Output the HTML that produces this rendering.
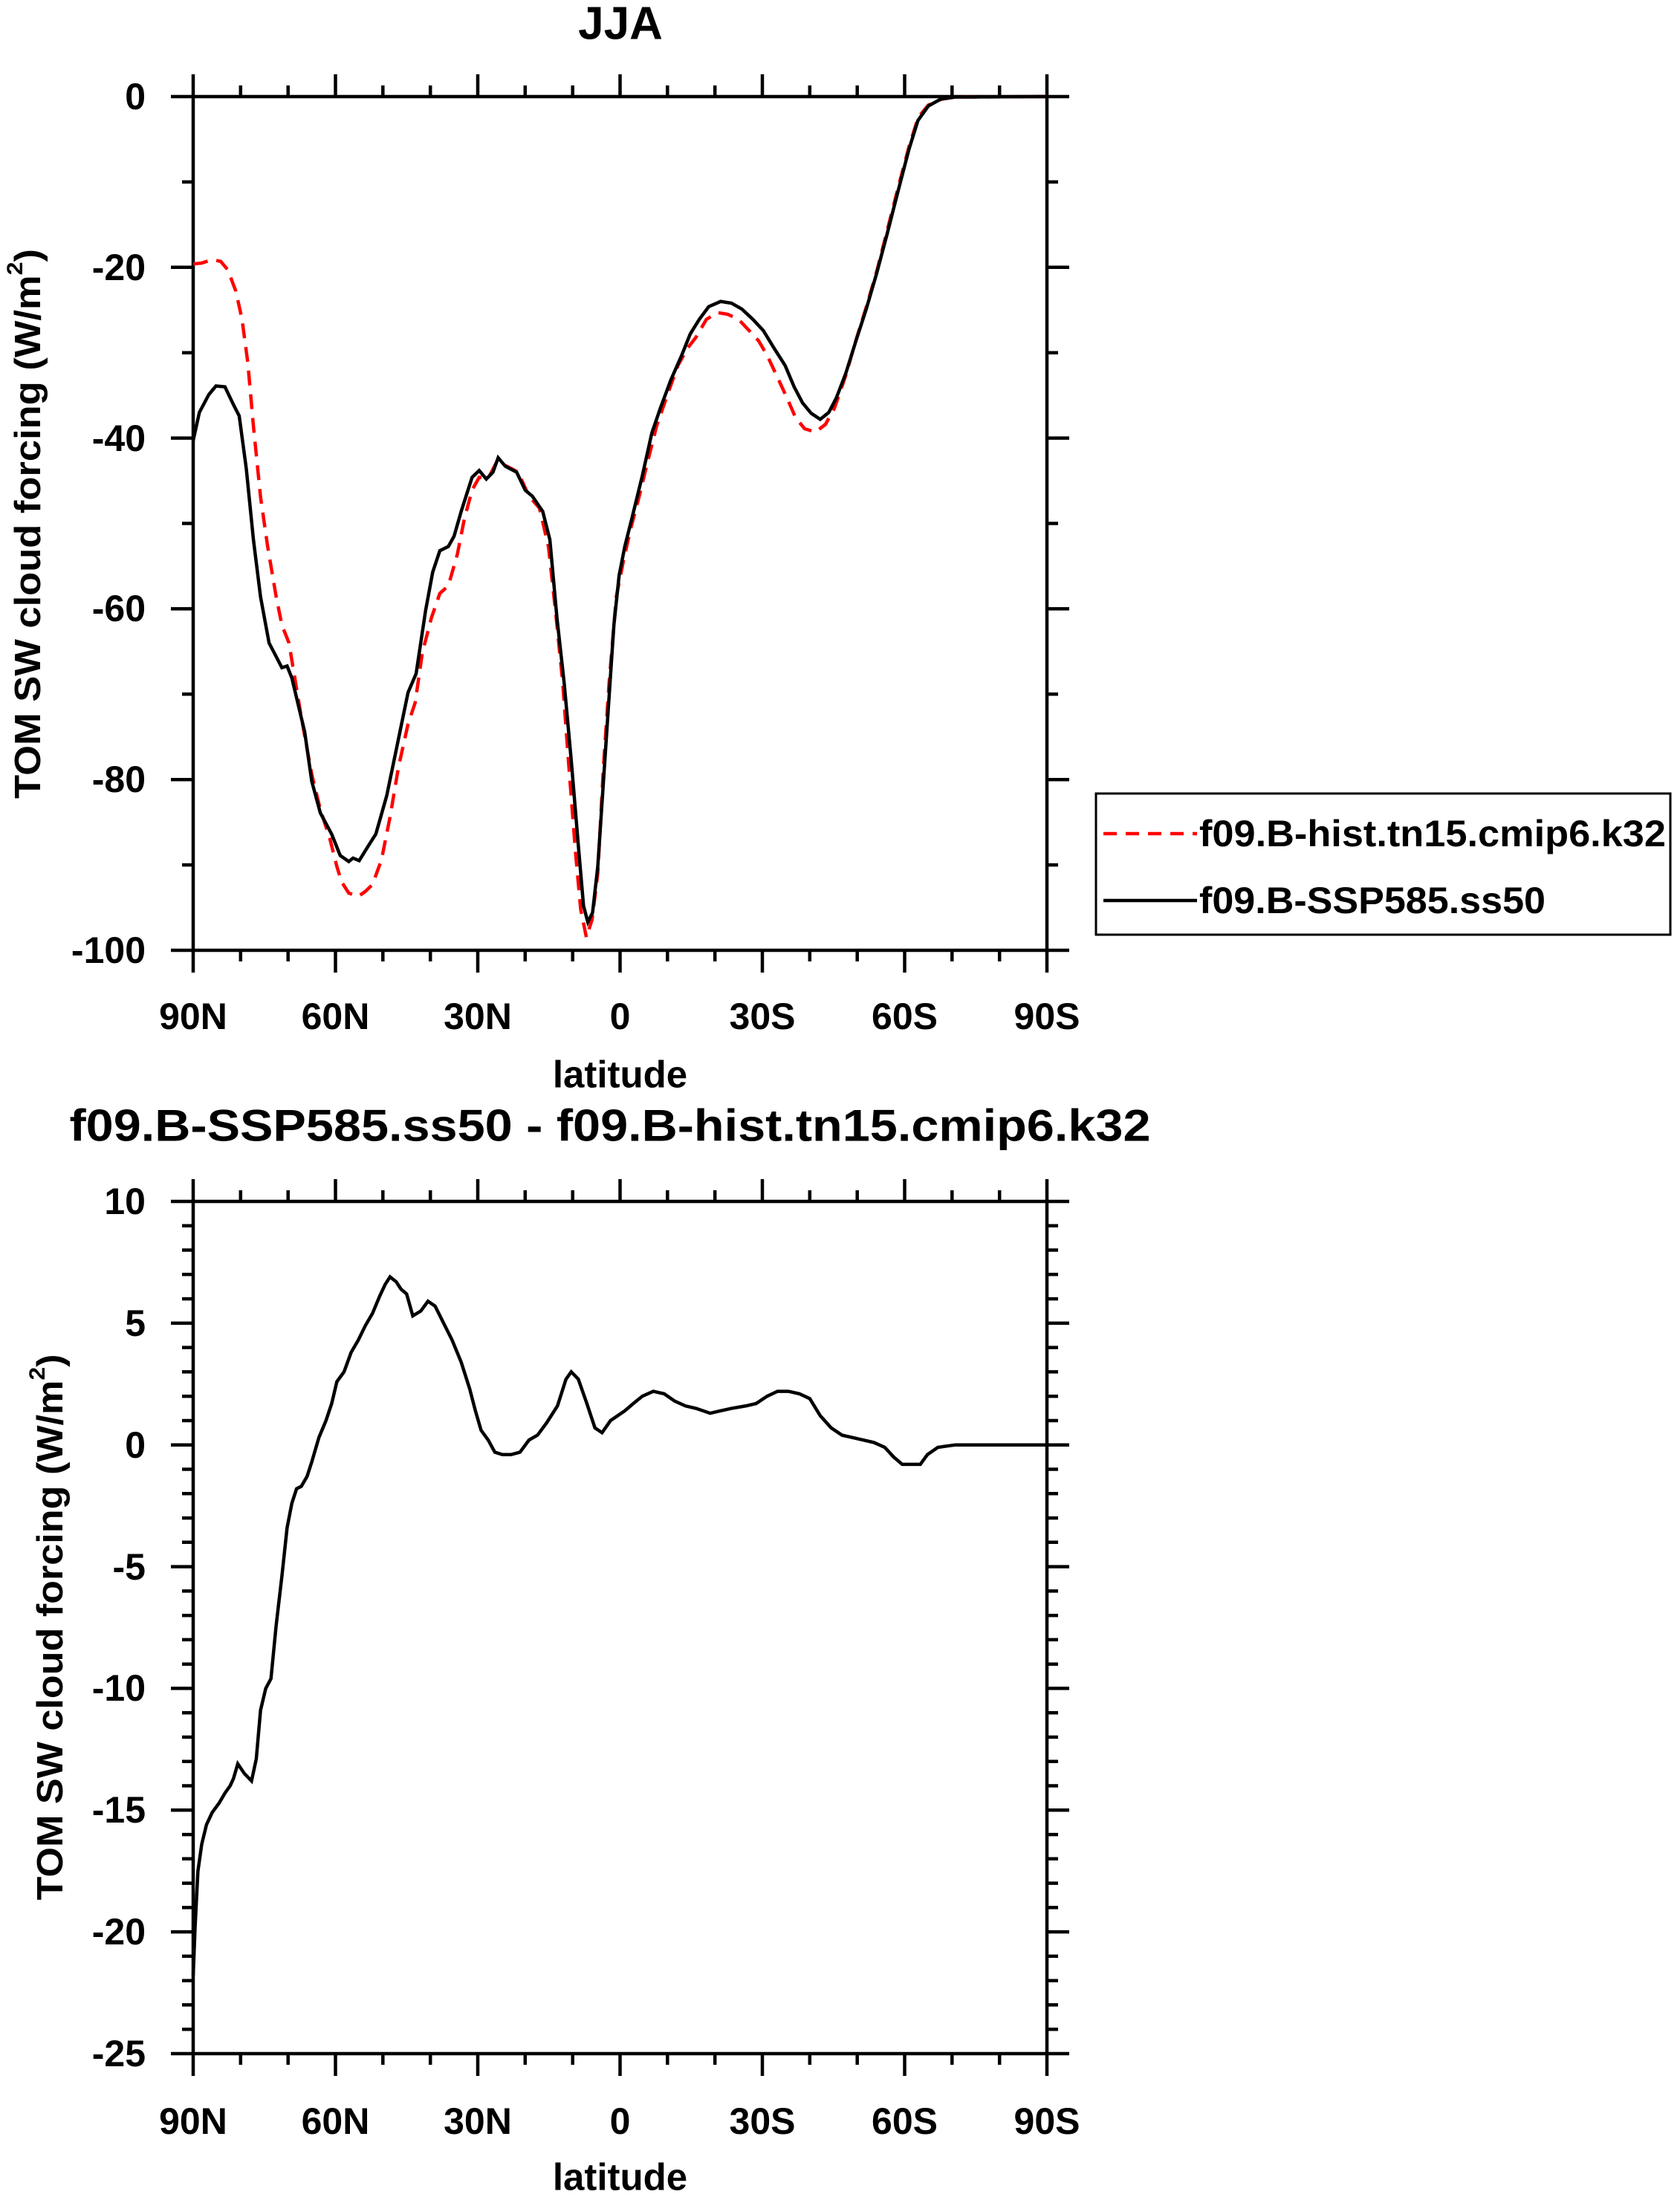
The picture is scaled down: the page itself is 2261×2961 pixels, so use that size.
<!DOCTYPE html>
<html><head><meta charset="utf-8"><style>
html,body{margin:0;padding:0;background:#fff;}
svg{display:block;}
text{font-family:"Liberation Sans",Arial,sans-serif;font-weight:bold;fill:#000;}
</style></head><body>
<svg width="2261" height="2961" viewBox="0 0 2261 2961" xmlns="http://www.w3.org/2000/svg">
<!-- TOP PLOT -->
<text x="835" y="32" font-size="62" text-anchor="middle" dominant-baseline="central">JJA</text>
<g stroke="#000" stroke-width="4.5" fill="none">
<rect x="260" y="130" width="1149" height="1149"/>
<path d="M260 130v-30M451.5 130v-30M643 130v-30M834.5 130v-30M1026 130v-30M1217.5 130v-30M1409 130v-30
M260 1279v30M451.5 1279v30M643 1279v30M834.5 1279v30M1026 1279v30M1217.5 1279v30M1409 1279v30
M323.8 130v-15M387.7 130v-15M515.3 130v-15M579.2 130v-15M706.8 130v-15M770.7 130v-15M898.3 130v-15M962.2 130v-15M1089.8 130v-15M1153.7 130v-15M1281.3 130v-15M1345.2 130v-15
M323.8 1279v15M387.7 1279v15M515.3 1279v15M579.2 1279v15M706.8 1279v15M770.7 1279v15M898.3 1279v15M962.2 1279v15M1089.8 1279v15M1153.7 1279v15M1281.3 1279v15M1345.2 1279v15
M260 130h-30M260 359.8h-30M260 589.6h-30M260 819.4h-30M260 1049.2h-30M260 1279h-30
M1409 130h30M1409 359.8h30M1409 589.6h30M1409 819.4h30M1409 1049.2h30M1409 1279h30
M260 244.9h-15M260 474.7h-15M260 704.5h-15M260 934.3h-15M260 1164.1h-15
M1409 244.9h15M1409 474.7h15M1409 704.5h15M1409 934.3h15M1409 1164.1h15"/>
</g>
<g font-size="50" text-anchor="end" dominant-baseline="central">
<text x="196" y="130">0</text><text x="196" y="360">-20</text><text x="196" y="590">-40</text>
<text x="196" y="819">-60</text><text x="196" y="1049">-80</text><text x="196" y="1279">-100</text>
</g>
<g font-size="50" text-anchor="middle" dominant-baseline="central">
<text x="260" y="1368">90N</text><text x="451.5" y="1368">60N</text><text x="643" y="1368">30N</text>
<text x="834.5" y="1368">0</text><text x="1026" y="1368">30S</text><text x="1217.5" y="1368">60S</text><text x="1409" y="1368">90S</text>
<text x="834.5" y="1446" font-size="51">latitude</text>
</g>
<text transform="translate(38,705) rotate(-90)" font-size="49" text-anchor="middle" dominant-baseline="central" textLength="740" lengthAdjust="spacingAndGlyphs">TOM SW cloud forcing (W/m<tspan font-size="30" dy="-18">2</tspan><tspan dy="18">)</tspan></text>
<g transform="translate(260,130) scale(6.3833,-11.49)" fill="none">
<polyline vector-effect="non-scaling-stroke" stroke="#f00" stroke-width="4.5" stroke-dasharray="20 12" points="0,-19.6 1.8,-19.5 4,-19.1 5.8,-19.3 7.3,-20.3 9,-22.8 10.3,-26.1 11.5,-31.1 12.7,-38.6 14.2,-46.9 15.7,-52.7 17.5,-58.6 18.7,-61.9 20.2,-64 21.3,-67.7 22.8,-72.7 25,-79.4 26.8,-83.5 28.8,-86.9 30.3,-90.2 31.3,-92 32.8,-93.3 34.8,-93.7 36.3,-93.1 37.8,-92.3 39.7,-89.4 41.5,-84.4 43.3,-78.5 45.3,-73.5 46.8,-71 48.3,-65.2 50.2,-61.1 52,-58.2 53.8,-57.3 55.7,-53.6 57.2,-49.4 58.8,-46.1 60.3,-44.6 62.2,-44.7 64,-42.8 65.8,-43.2 68.5,-44 70.8,-46.8 73,-48.2 74.9,-52.7 76.4,-60.3 77.9,-68.6 79.1,-77.7 80.6,-88.5 81.7,-95.2 82.9,-98.5 84.1,-96.4 85.3,-91 86.5,-78.5 87.7,-68.6 89.2,-58.6 90.7,-54.4 92.2,-50.7 94,-46.9 95.8,-42.8 97.7,-38.6 100,-34.9 102.2,-31.5 104.2,-29.5 106,-28.2 108.2,-26.1 110.5,-25.3 112.7,-25.5 115,-26.1 117.2,-27.4 119.2,-28.6 121,-30.3 123.2,-32.9 125.2,-35.3 127,-37.6 128.9,-38.9 131.2,-39.3 133.3,-38.4 135.2,-36.5 137.5,-32.8 139.7,-28.6 142,-24.5 144.2,-20.3 146.5,-15.3 148.8,-10.3 151,-5.7 152.9,-2.4 155,-1 157.8,-0.3 160.7,-0.05 180,0"/>
<polyline vector-effect="non-scaling-stroke" stroke="#000" stroke-width="4.5" points="0,-40.3 1.3,-37 3.3,-34.9 4.8,-33.9 6.7,-34 8.5,-36.1 9.7,-37.4 11.2,-43.6 12.7,-51.9 14.2,-58.6 16,-64 17.5,-65.6 18.7,-66.9 19.8,-66.7 20.8,-68.1 23.5,-74.4 25,-80.2 26.8,-83.9 29.2,-86.4 31,-88.9 32.8,-89.6 33.7,-89.2 35,-89.5 37,-87.7 38.5,-86.4 40.8,-81.9 43,-76 45.3,-69.8 47,-67.6 49,-60.2 50.5,-55.7 52,-53.2 53.8,-52.7 55,-51.5 56.5,-48.6 57.7,-46.5 58.8,-44.6 60.3,-43.8 61.8,-44.8 63.2,-44 64.3,-42.3 65.8,-43.3 68.2,-44 70,-46.1 71.5,-46.8 73.7,-48.6 75.2,-51.9 76.7,-61.1 78.2,-68.6 79.7,-77.7 81.2,-87.7 82.3,-94.8 83.2,-96.7 84.2,-95.6 85.3,-90.2 86.5,-80.2 87.7,-70.2 88.7,-61.9 89.8,-56.1 91,-52.7 92.5,-49.4 94.7,-44.4 96.7,-39.4 98.5,-36.5 100.7,-33.2 103,-30.3 104.8,-27.8 106.7,-26.1 108.7,-24.6 111.2,-24 113.5,-24.2 115.7,-24.9 118,-26.1 120.2,-27.4 122.5,-29.5 124.8,-31.5 126.7,-34 128.5,-35.9 130.3,-37.1 132.2,-37.8 134,-37 135.6,-35.3 137.6,-32.4 139.8,-28.5 141.9,-24.9 144.1,-20.7 146.3,-16.1 148.6,-11.1 150.9,-6.2 152.8,-2.8 155,-1.1 157.6,-0.3 160.7,-0.05 180,0"/>
</g>
<!-- legend -->
<rect x="1475" y="1068" width="773" height="190" fill="#fff" stroke="#000" stroke-width="3"/>
<line x1="1485" y1="1122" x2="1611" y2="1122" stroke="#f00" stroke-width="4.5" stroke-dasharray="18 12"/>
<line x1="1485" y1="1212" x2="1611" y2="1212" stroke="#000" stroke-width="4.5"/>
<text x="1614" y="1122" font-size="50" dominant-baseline="central" textLength="628" lengthAdjust="spacingAndGlyphs">f09.B-hist.tn15.cmip6.k32</text>
<text x="1614" y="1212" font-size="50" dominant-baseline="central" textLength="466" lengthAdjust="spacingAndGlyphs">f09.B-SSP585.ss50</text>

<!-- BOTTOM PLOT -->
<text x="821" y="1515" font-size="60" text-anchor="middle" dominant-baseline="central" textLength="1455" lengthAdjust="spacingAndGlyphs">f09.B-SSP585.ss50 - f09.B-hist.tn15.cmip6.k32</text>
<g stroke="#000" stroke-width="4.5" fill="none">
<rect x="260" y="1617" width="1149" height="1147"/>
<path d="M260 1617v-30M451.5 1617v-30M643 1617v-30M834.5 1617v-30M1026 1617v-30M1217.5 1617v-30M1409 1617v-30
M260 2764v30M451.5 2764v30M643 2764v30M834.5 2764v30M1026 2764v30M1217.5 2764v30M1409 2764v30
M323.8 1617v-15M387.7 1617v-15M515.3 1617v-15M579.2 1617v-15M706.8 1617v-15M770.7 1617v-15M898.3 1617v-15M962.2 1617v-15M1089.8 1617v-15M1153.7 1617v-15M1281.3 1617v-15M1345.2 1617v-15
M323.8 2764v15M387.7 2764v15M515.3 2764v15M579.2 2764v15M706.8 2764v15M770.7 2764v15M898.3 2764v15M962.2 2764v15M1089.8 2764v15M1153.7 2764v15M1281.3 2764v15M1345.2 2764v15"/>
<path d="M260 1617h-30M260 1780.9h-30M260 1944.7h-30M260 2108.6h-30M260 2272.4h-30M260 2436.3h-30M260 2600.1h-30M260 2764h-30
M1409 1617h30M1409 1780.9h30M1409 1944.7h30M1409 2108.6h30M1409 2272.4h30M1409 2436.3h30M1409 2600.1h30M1409 2764h30"/>
<path d="M260 1649.8h-15M260 1682.5h-15M260 1715.3h-15M260 1748.1h-15M260 1813.6h-15M260 1846.4h-15M260 1879.2h-15M260 1912h-15M260 1977.5h-15M260 2010.3h-15M260 2043.1h-15M260 2075.8h-15M260 2141.4h-15M260 2174.2h-15M260 2206.9h-15M260 2239.7h-15M260 2305.2h-15M260 2338h-15M260 2370.8h-15M260 2403.5h-15M260 2469.1h-15M260 2501.8h-15M260 2534.6h-15M260 2567.4h-15M260 2632.9h-15M260 2665.7h-15M260 2698.4h-15M260 2731.2h-15
M1409 1649.8h15M1409 1682.5h15M1409 1715.3h15M1409 1748.1h15M1409 1813.6h15M1409 1846.4h15M1409 1879.2h15M1409 1912h15M1409 1977.5h15M1409 2010.3h15M1409 2043.1h15M1409 2075.8h15M1409 2141.4h15M1409 2174.2h15M1409 2206.9h15M1409 2239.7h15M1409 2305.2h15M1409 2338h15M1409 2370.8h15M1409 2403.5h15M1409 2469.1h15M1409 2501.8h15M1409 2534.6h15M1409 2567.4h15M1409 2632.9h15M1409 2665.7h15M1409 2698.4h15M1409 2731.2h15"/>
</g>
<g font-size="50" text-anchor="end" dominant-baseline="central">
<text x="196" y="1617">10</text><text x="196" y="1781">5</text><text x="196" y="1945">0</text>
<text x="196" y="2109">-5</text><text x="196" y="2272">-10</text><text x="196" y="2436">-15</text><text x="196" y="2600">-20</text><text x="196" y="2764">-25</text>
</g>
<g font-size="50" text-anchor="middle" dominant-baseline="central">
<text x="260" y="2855">90N</text><text x="451.5" y="2855">60N</text><text x="643" y="2855">30N</text>
<text x="834.5" y="2855">0</text><text x="1026" y="2855">30S</text><text x="1217.5" y="2855">60S</text><text x="1409" y="2855">90S</text>
<text x="834.5" y="2930" font-size="51">latitude</text>
</g>
<text transform="translate(68,2190) rotate(-90)" font-size="49" text-anchor="middle" dominant-baseline="central" textLength="735" lengthAdjust="spacingAndGlyphs">TOM SW cloud forcing (W/m<tspan font-size="30" dy="-18">2</tspan><tspan dy="18">)</tspan></text>
<g transform="translate(260,1944.7) scale(6.3833,-32.77)" fill="none">
<polyline vector-effect="non-scaling-stroke" stroke="#000" stroke-width="4.5" points="0,-21.8 0.4,-19.8 1,-17.5 1.8,-16.4 2.8,-15.6 4,-15.1 5.5,-14.7 6.7,-14.3 7.8,-14 8.5,-13.7 9.4,-13.1 10.8,-13.5 12.3,-13.8 13.3,-12.9 14.2,-10.9 15.3,-10 16.4,-9.6 17.5,-7.4 18.7,-5.4 19.8,-3.4 20.8,-2.4 21.8,-1.8 22.8,-1.7 24,-1.3 25,-0.7 26.5,0.3 28,1 29.2,1.7 30.3,2.6 31.8,3 33.3,3.8 34.8,4.3 36.3,4.9 37.8,5.4 39.3,6.1 40.5,6.6 41.5,6.9 42.8,6.7 43.8,6.4 45,6.2 46.3,5.3 48,5.5 49.5,5.9 51,5.7 52.8,5 54.6,4.3 56.5,3.4 58.3,2.3 59.5,1.4 60.7,0.6 62.2,0.2 63.6,-0.3 65.2,-0.4 67,-0.4 68.9,-0.3 70.8,0.2 72.6,0.4 74.5,0.9 76.8,1.6 78.6,2.7 79.7,3 81.2,2.7 83,1.7 84.7,0.7 86.2,0.5 88,1 89.5,1.2 91,1.4 92.8,1.7 94.7,2 97,2.2 99.3,2.1 101.5,1.8 103.8,1.6 106,1.5 109,1.3 111.2,1.4 113.5,1.5 116.5,1.6 118.7,1.7 121,2 123.2,2.2 125.5,2.2 127.8,2.1 130,1.9 132.2,1.2 134.5,0.7 136.8,0.4 139,0.3 141.3,0.2 143.5,0.1 145.8,-0.1 147.7,-0.5 149.5,-0.8 151.4,-0.8 153.3,-0.8 154.8,-0.4 157,-0.1 160.7,0 180,0"/>
</g>
</svg>
</body></html>
